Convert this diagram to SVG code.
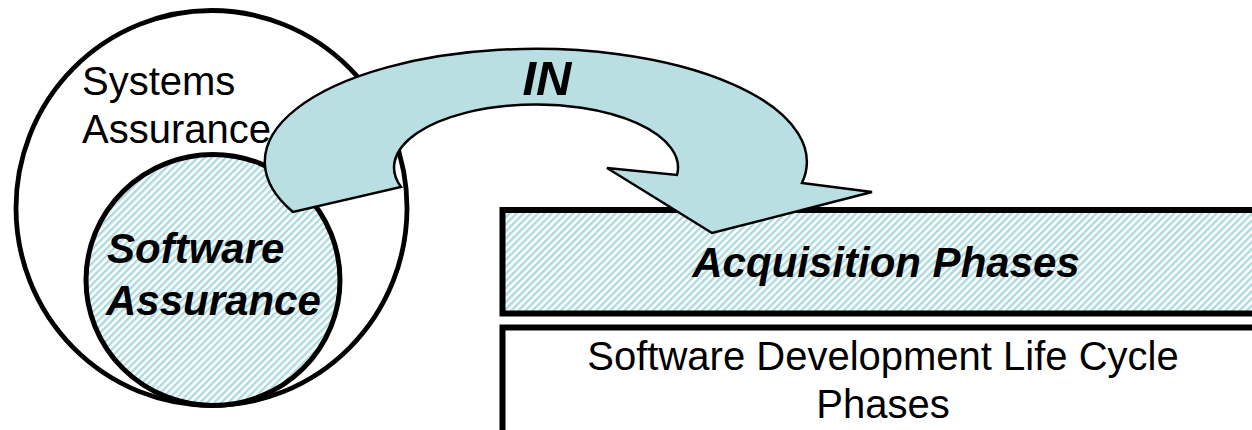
<svg xmlns="http://www.w3.org/2000/svg" width="1252" height="430" viewBox="0 0 1252 430">
  <style>
    .label { font-family: "Liberation Sans", Arial, sans-serif; fill: #000; }
    .plain { font-size: 40px; }
    .strong { font-size: 42px; font-weight: bold; font-style: italic; }
    .ring { stroke: #000; }
    .box { stroke: #000; stroke-width: 6; }
  </style>
  <defs>
    <!-- light teal diagonal hatching -->
    <pattern id="hatch" patternUnits="userSpaceOnUse" width="5" height="10" patternTransform="rotate(45)">
      <rect x="0" y="0" width="5" height="10" fill="#ffffff"/>
      <rect x="0" y="0" width="2.4" height="10" fill="#acdade"/>
    </pattern>
  </defs>

  <!-- Systems Assurance (outer circle) -->
  <g id="systems-assurance">
    <ellipse class="ring" cx="211.5" cy="208" rx="195.5" ry="197.5" fill="#ffffff" stroke-width="4.8"/>
    <text class="label plain" x="82" y="95">Systems</text>
    <text class="label plain" x="82" y="143">Assurance</text>
  </g>

  <!-- Software Assurance (inner circle) -->
  <g id="software-assurance">
    <ellipse class="ring" cx="213" cy="280" rx="127" ry="125.5" fill="url(#hatch)" stroke-width="5"/>
    <text class="label strong" x="107" y="263">Software</text>
    <text class="label strong" x="106" y="315">Assurance</text>
  </g>

  <!-- Acquisition Phases bar -->
  <g id="acquisition-phases">
    <rect class="box" x="502.5" y="210" width="800" height="103.5" fill="url(#hatch)"/>
    <text class="label strong" x="886" y="277" text-anchor="middle">Acquisition Phases</text>
  </g>

  <!-- Software Development Life Cycle bar -->
  <g id="sdlc-phases">
    <rect class="box" x="502.5" y="327.5" width="800" height="160" fill="#ffffff"/>
    <text class="label plain" x="883" y="370" text-anchor="middle">Software Development Life Cycle</text>
    <text class="label plain" x="883" y="418" text-anchor="middle">Phases</text>
  </g>

  <!-- curved "IN" arrow -->
  <g id="connectors">
    <path d="M 293,212 A 271,113 0 1 1 802,183 L 872,192 L 712,233 L 607,168 L 677,175 A 142,63 0 1 0 401,187 Z"
          fill="#b9dfe3" stroke="#000" stroke-width="2.5" stroke-linejoin="miter"/>
    <text class="label" x="547" y="95" text-anchor="middle" font-size="49" font-weight="bold" font-style="italic">IN</text>
  </g>
</svg>
